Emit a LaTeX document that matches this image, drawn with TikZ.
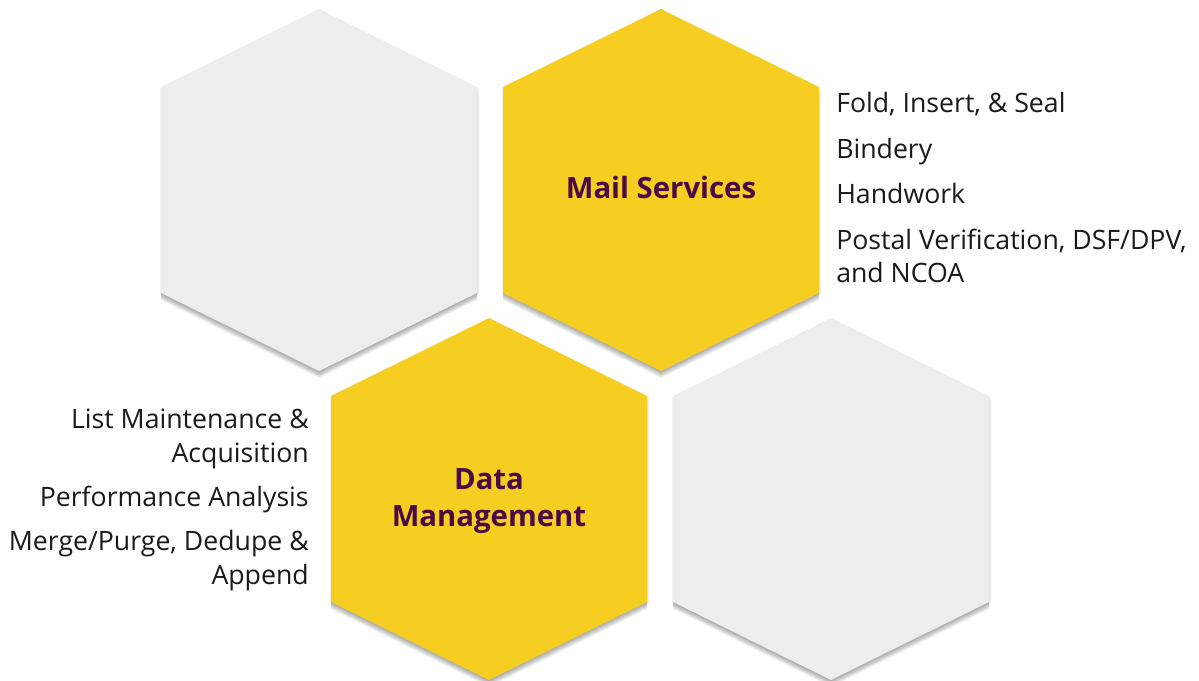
\documentclass[tikz,border=0pt]{standalone}
\usepackage{fontspec}
\setmainfont{Open Sans}
\definecolor{hexyellow}{HTML}{F6CD21}
\definecolor{hexgray}{HTML}{EDEDED}
\definecolor{titlepurple}{HTML}{4A0B45}
\definecolor{bodytext}{HTML}{1A1A1A}
\newcommand{\hexoutline}{(0,-181) -- (158,-103) -- (158,103) -- (0,181) -- (-158,103) -- (-158,-103) -- cycle}
\newcommand{\myhex}[3]{%
  \begin{scope}[shift={(#1,#2)}]
    \foreach \d in {1,...,7} {
      \fill[black,opacity=0.05,shift={(0,\d)}] \hexoutline;
    }
    \fill[black,opacity=0.06] (-159.5,-102) -- (159.5,-102) -- (159.5,104) -- (-159.5,104) -- cycle;
    \fill[#3] \hexoutline;
  \end{scope}}
\tikzset{
  item/.style={font=\fontsize{20}{24}\selectfont, text=bodytext, inner sep=0pt},
  hextitle/.style={font=\fontsize{22}{28}\selectfont\bfseries, text=titlepurple, inner sep=0pt, anchor=base}
}
\begin{document}
\begin{tikzpicture}[x=0.75pt,y=-0.75pt]
  \useasboundingbox (0,0) rectangle (1199,681);
  \fill[white] (0,0) rectangle (1199,681);
  \myhex{319}{190}{hexgray}
  \myhex{661}{190}{hexyellow}
  \myhex{489}{499}{hexyellow}
  \myhex{831}{499}{hexgray}
  \node[hextitle] (mail) at (661,199) {Mail Services};
  \node[hextitle] (data1) at (489,489) {Data};
  \node[hextitle] (data2) at (489,526) {Management};
  \node[item, anchor=base west] (fold) at (836,113) {Fold, Insert, \& Seal};
  \node[item, anchor=base west] (bind) at (836,159) {Bindery};
  \node[item, anchor=base west] (hand) at (836,204) {Handwork};
  \node[item, anchor=base west] (postal) at (836,249) {Postal Verification, DSF/DPV,};
  \node[item, anchor=base west] (postal2) at (836,282) {and NCOA};
  \node[item, anchor=base east] (list) at (309,428) {List Maintenance \&};
  \node[item, anchor=base east] (list2) at (309,462) {Acquisition};
  \node[item, anchor=base east] (perf) at (309,506) {Performance Analysis};
  \node[item, anchor=base east] (merge) at (309,550) {Merge/Purge, Dedupe \&};
  \node[item, anchor=base east] (merge2) at (309,584) {Append};
\end{tikzpicture}
\end{document}
